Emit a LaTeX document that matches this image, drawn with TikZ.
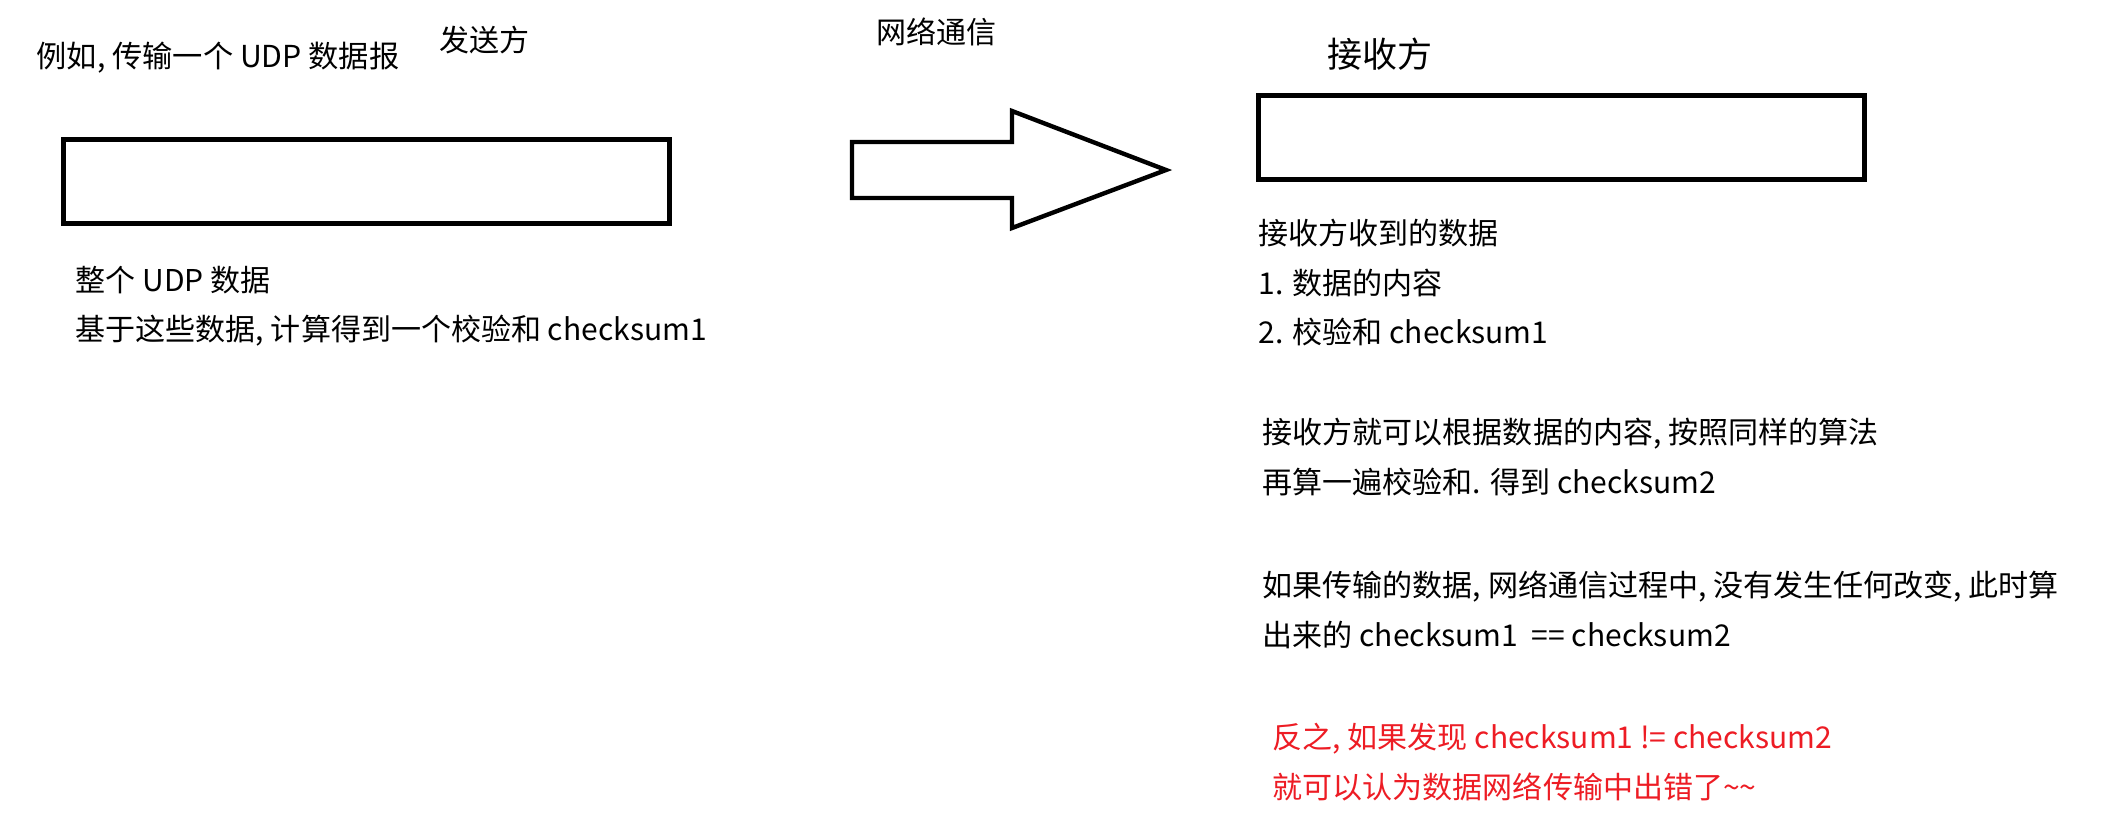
\documentclass[tikz,border=0pt]{standalone}
\usepackage{fontspec}
\setmainfont{Noto Sans CJK SC}
\usepackage{xcolor}
\usetikzlibrary{positioning}
\definecolor{errred}{RGB}{237,28,36}
\tikzset{
    pktbox/.style={draw=black, line width=1.55pt},
    netarrow/.style={draw=black, line width=1.25pt, line join=miter},
    notetext/.style={inner sep=0pt, align=left, font=\fontsize{8.54pt}{14.2pt}\selectfont},
    sidetitle/.style={inner sep=0pt, font=\fontsize{#1}{12pt}\selectfont},
    errnote/.style={notetext, text=errred}
}

\begin{document}
\begin{tikzpicture}[x=0.01cm, y=-0.01cm]
\useasboundingbox (0,0) rectangle (2110,836);

% titles
\node[sidetitle=8.6pt, anchor=west] (example) at (36,58) {例如, 传输一个 UDP 数据报};
\node[sidetitle=8.54pt, anchor=west] (sender) at (439,40) {发送方};
\node[sidetitle=8.54pt, anchor=west] (network) at (876,32) {网络通信};
\node[sidetitle=9.96pt, anchor=west] (receiver) at (1327,54) {接收方};

% packets
\draw[pktbox] (63.5,139.5) rectangle (669.5,223.5);
\draw[pktbox] (1258.5,95.5) rectangle (1864.5,179.5);

% transfer arrow
\draw[netarrow] (852,142) -- (1012,142) -- (1012,111) -- (1166,170)
    -- (1012,228) -- (1012,198) -- (852,198) -- cycle;

% sender side
\node[notetext, font=\fontsize{8.54pt}{13.7pt}\selectfont, anchor=north west] (sendnote) at (75,266)
    {整个 UDP 数据\\基于这些数据, 计算得到一个校验和 checksum1};

% receiver side
\node[notetext, anchor=north west] (recvdata) at (1258,218)
    {接收方收到的数据\\1. 数据的内容\\2. 校验和 checksum1};
\node[notetext, anchor=north west] (recvcalc) at (1262,417)
    {接收方就可以根据数据的内容, 按照同样的算法\\再算一遍校验和. 得到 checksum2};
\node[notetext, anchor=north west] (recvok) at (1262,570)
    {如果传输的数据, 网络通信过程中, 没有发生任何改变, 此时算\\出来的 checksum1\ \ == checksum2};
\node[errnote, anchor=north west] (recverr) at (1272,722)
    {反之, 如果发现 checksum1 != checksum2\\就可以认为数据网络传输中出错了\textasciitilde\textasciitilde};

\end{tikzpicture}
\end{document}
